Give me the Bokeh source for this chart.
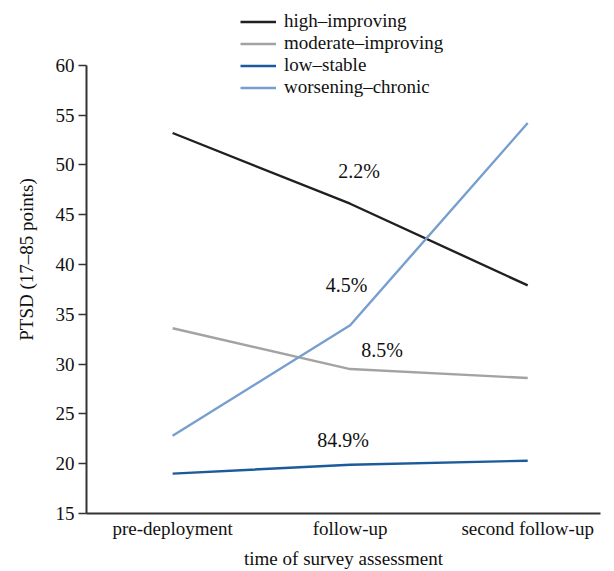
from bokeh.plotting import figure
from bokeh.models import FixedTicker, Range1d
from bokeh.core.properties import value
from bokeh.embed import file_html
from bokeh.resources import INLINE

# data
timepoints = ["pre-deployment", "follow-up", "second follow-up"]
x_pos = [1, 2, 3]
high_improving = [53.2, 46.1, 37.9]
moderate_improving = [33.6, 29.5, 28.6]
low_stable = [19.0, 19.9, 20.3]
worsening_chronic = [22.8, 33.9, 54.2]
series_names = ["high\u2013improving", "moderate\u2013improving", "low\u2013stable", "worsening\u2013chronic"]
series_colors = ["#231f20", "#a3a3a3", "#1c5b9b", "#769fd0"]
pct_labels = ["2.2%", "4.5%", "8.5%", "84.9%"]
pct_x = [2.05, 1.98, 2.18, 1.96]
pct_y = [49.4, 37.9, 31.4, 22.4]
y_ticks = [15, 20, 25, 30, 35, 40, 45, 50, 55, 60]

FONT = "Liberation Serif"

p = figure(width=614, height=571, output_backend="svg", toolbar_location=None,
           x_range=Range1d(0.515, 3.41), y_range=Range1d(15, 66.0),
           min_border_left=86, min_border_right=14, min_border_top=5, min_border_bottom=58)
p.outline_line_color = None
p.grid.visible = False
p.background_fill_color = "white"
p.border_fill_color = "white"

all_series = [high_improving, moderate_improving, low_stable, worsening_chronic]
for vals, name, col in zip(all_series, series_names, series_colors):
    p.line(x_pos, vals, line_color=col, line_width=2.4, legend_label=name)

p.text(x=pct_x, y=pct_y, text=pct_labels, text_font=value(FONT), text_font_size="20px",
       text_align="center", text_baseline="middle", text_color="#111111")

# axes
p.yaxis.ticker = FixedTicker(ticks=y_ticks)
p.yaxis.bounds = (15, 60)
p.yaxis.minor_tick_line_color = None
p.yaxis.major_tick_out = 8
p.yaxis.major_tick_in = 0
p.yaxis.major_label_standoff = 4
p.yaxis.axis_label = "PTSD (17\u201385 points)"
p.yaxis.axis_label_standoff = 16

p.xaxis.ticker = FixedTicker(ticks=x_pos)
p.xaxis.major_label_overrides = {x: t for x, t in zip(x_pos, timepoints)}
p.xaxis.minor_tick_line_color = None
p.xaxis.major_tick_out = 0
p.xaxis.major_tick_in = 0
p.xaxis.major_label_standoff = 4
p.xaxis.axis_label = "time of survey assessment"
p.xaxis.axis_label_standoff = 6

for ax in (p.xaxis, p.yaxis):
    ax.axis_line_color = "#333333"
    ax.axis_line_width = 2
    ax.major_tick_line_width = 1.5
    ax.major_label_text_font = FONT
    ax.major_label_text_font_size = "19px"
    ax.major_label_text_color = "#111111"
    ax.axis_label_text_font = FONT
    ax.axis_label_text_font_size = "19px"
    ax.axis_label_text_font_style = "normal"
    ax.axis_label_text_color = "#111111"
p.yaxis.major_tick_line_color = "#333333"
p.xaxis.major_tick_line_color = None

lg = p.legend[0]
lg.location = (154, 415)
lg.border_line_color = None
lg.background_fill_alpha = 0
lg.padding = 0
lg.margin = 0
lg.spacing = 0
lg.label_height = 21
lg.glyph_height = 21
lg.glyph_width = 36
lg.label_standoff = 8
lg.label_text_font = FONT
lg.label_text_font_size = "19px"
lg.label_text_color = "#111111"
lg.label_text_baseline = "middle"

open("out.html", "w").write(file_html(p, INLINE))
